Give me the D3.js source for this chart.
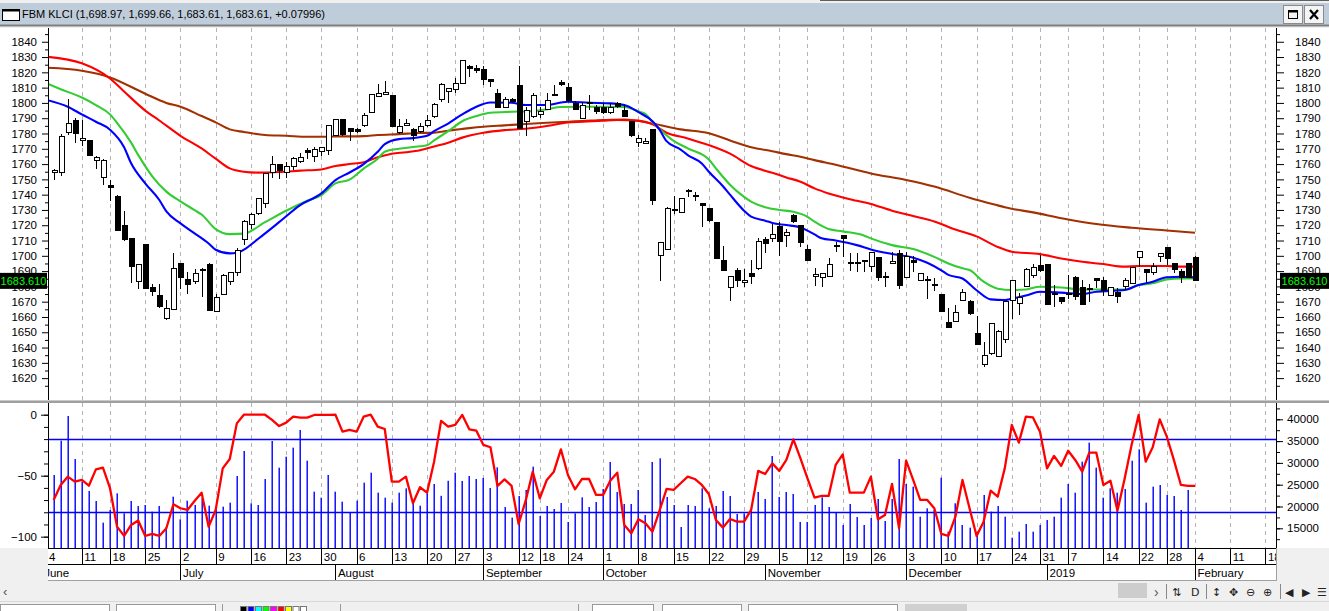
<!DOCTYPE html>
<html>
<head>
<meta charset="utf-8">
<script src="https://cdn.jsdelivr.net/npm/d3@7"></script>
<style>
  body { margin: 0; background: #f0f0f0; overflow: hidden; }
  svg { display: block; font-family: "Liberation Sans", Arial, sans-serif; }
</style>
</head>
<body>
<script>
// Window size
const w = 1329;
const h = 611;

// Plot edges (both panes share the x range)
const left = 48;
const right = 1276;
const mainTop = 28, mainBottom = 400;
const lowTop = 403, lowBottom = 548;

// ---- data ----
const symbol = "FBM KLCI";
const lastChange = "+0.07996";

// trading day index of the first candle (index 0 = 4 June 2018)
const firstDay = 1;

const open = [1754.8,1754.6,1780.5,1788.8,1775.5,1775.5,1762.4,1751.3,1746.1,1739.1,1720.1,1711.0,1683.1,1707.5,1679.3,1674.3,1658.8,1665.0,1695.0,1684.8,
  1683.3,1691.1,1694.6,1663.6,1675.0,1683.3,1688.9,1710.7,1720.8,1727.7,1733.9,1754.6,1759.4,1754.3,1758.3,1761.5,1769.2,1764.8,1768.5,1769.2,
  1778.8,1789.2,1783.3,1782.9,1785.3,1793.8,1804.3,1805.6,1805.1,1780.7,1785.3,1782.9,1781.2,1785.1,1791.0,1802.3,1807.6,1808.8,1812.8,1823.7,
  1822.6,1821.9,1815.0,1806.2,1797.1,1802.5,1811.7,1787.7,1791.0,1792.7,1795.8,1805.6,1813.2,1810.2,1799.7,1789.9,1800.0,1797.1,1797.1,1793.6,
  1799.7,1795.3,1787.7,1774.2,1773.5,1782.7,1700.1,1704.2,1729.6,1728.2,1742.5,1739.2,1734.3,1731.0,1722.1,1697.0,1679.3,1690.7,1682.4,1688.5,
  1691.5,1710.7,1711.4,1719.5,1713.3,1726.2,1720.1,1704.2,1686.3,1685.9,1686.3,1706.2,1713.4,1695.8,1695.6,1696.6,1692.9,1699.0,1686.5,1695.1,
  1701.6,1685.9,1697.2,1684.1,1684.3,1681.5,1675.0,1656.5,1656.9,1670.6,1670.0,1649.3,1628.6,1635.8,1634.4,1645.3,1670.6,1668.9,1679.8,1687.4,
  1693.7,1694.0,1675.6,1673.0,1675.2,1685.9,1679.3,1678.9,1685.2,1683.7,1674.3,1675.9,1679.8,1682.0,1699.0,1691.1,1688.9,1699.8,1705.5,1695.0,
  1690.0,1695.0,1698.97];
const high = [1756.7,1779.4,1802.3,1789.9,1788.8,1775.7,1765.2,1763.3,1749.5,1739.5,1729.3,1711.2,1694.8,1707.6,1681.5,1681.5,1671.0,1701.6,1695.2,1689.6,
  1691.3,1691.8,1695.0,1675.0,1688.0,1689.6,1705.0,1723.4,1727.7,1737.7,1754.3,1765.2,1759.6,1761.5,1764.8,1767.0,1770.3,1770.9,1771.0,1785.4,
  1789.3,1789.3,1783.4,1783.3,1793.6,1805.7,1812.3,1814.1,1805.2,1789.2,1789.2,1783.3,1787.0,1792.0,1799.7,1812.8,1809.6,1816.3,1828.1,1824.8,
  1824.8,1824.1,1815.1,1808.8,1804.0,1803.4,1824.1,1797.5,1806.7,1797.5,1806.7,1811.7,1815.0,1813.2,1801.4,1800.8,1805.1,1798.6,1799.7,1799.7,
  1800.8,1798.6,1788.0,1779.0,1776.8,1782.8,1708.6,1732.1,1739.0,1737.6,1743.4,1741.9,1734.4,1731.1,1722.2,1706.4,1686.8,1691.8,1691.3,1697.2,
  1711.4,1712.5,1720.8,1722.3,1717.3,1727.3,1720.2,1707.0,1691.8,1688.6,1698.3,1709.2,1713.5,1702.0,1702.0,1697.0,1702.3,1699.1,1689.6,1702.7,
  1703.8,1702.7,1699.8,1688.6,1686.8,1685.2,1675.1,1665.6,1667.8,1678.0,1671.0,1660.6,1643.4,1655.9,1651.4,1670.1,1684.0,1675.9,1691.8,1694.6,
  1700.5,1694.1,1680.9,1673.1,1687.4,1686.8,1684.1,1681.3,1685.3,1685.9,1679.8,1678.7,1685.2,1692.9,1702.6,1691.2,1695.5,1701.7,1705.9,1695.1,
  1691.1,1695.5,1699.66];
const low = [1749.5,1752.4,1779.0,1774.0,1772.0,1765.4,1756.5,1746.3,1736.0,1716.0,1710.0,1682.4,1678.3,1678.0,1673.9,1666.0,1658.0,1664.5,1678.0,1675.0,
  1681.3,1673.3,1664.0,1663.0,1674.6,1680.6,1687.0,1707.0,1717.3,1726.6,1731.0,1750.6,1750.4,1750.6,1756.1,1760.4,1763.3,1761.5,1765.2,1765.7,
  1778.3,1778.3,1775.3,1780.1,1784.0,1793.6,1804.2,1805.5,1784.0,1779.4,1784.9,1775.3,1780.1,1784.0,1789.9,1800.8,1800.1,1806.2,1812.6,1817.1,
  1819.3,1811.7,1810.6,1797.0,1796.4,1799.7,1783.0,1778.3,1789.9,1789.9,1795.3,1805.1,1811.0,1800.8,1795.3,1789.2,1795.3,1792.7,1793.0,1793.0,
  1796.4,1791.0,1777.9,1770.9,1773.1,1733.2,1683.7,1703.8,1727.3,1728.0,1738.2,1736.0,1719.0,1722.3,1698.0,1690.2,1670.6,1679.3,1679.8,1681.5,
  1690.7,1702.0,1709.2,1699.8,1705.9,1721.6,1705.9,1696.6,1680.2,1679.3,1685.9,1702.7,1699.4,1690.2,1689.6,1689.6,1689.6,1683.7,1679.3,1695.0,
  1678.0,1685.8,1689.6,1683.7,1671.5,1677.2,1663.3,1653.0,1656.8,1670.5,1661.3,1642.0,1627.0,1635.1,1634.0,1643.2,1658.4,1661.2,1679.3,1685.2,
  1689.6,1667.8,1666.7,1668.4,1671.5,1671.0,1667.8,1670.0,1678.7,1673.7,1673.7,1668.9,1677.6,1681.9,1692.4,1682.4,1687.4,1696.1,1694.0,1688.9,
  1682.4,1685.8,1683.61];
const close = [1756.1,1778.3,1786.6,1780.1,1776.8,1765.5,1764.1,1762.6,1744.7,1716.4,1710.5,1692.9,1694.6,1678.5,1676.5,1666.7,1665.6,1691.8,1685.9,1681.5,
  1688.5,1690.2,1664.1,1672.8,1687.2,1688.9,1703.3,1722.3,1727.1,1737.6,1753.9,1759.8,1755.7,1758.3,1763.7,1764.4,1767.6,1769.6,1770.9,1785.3,
  1789.2,1779.4,1781.2,1781.2,1791.8,1805.6,1806.2,1806.9,1784.4,1784.4,1786.6,1778.8,1784.4,1788.8,1799.0,1812.3,1809.5,1812.8,1828.0,1822.8,
  1821.1,1815.4,1813.9,1797.1,1802.3,1800.8,1783.3,1795.3,1805.1,1794.2,1801.9,1805.8,1811.9,1801.4,1795.8,1798.0,1799.5,1794.2,1793.6,1797.1,
  1797.5,1791.4,1778.5,1776.8,1775.0,1736.0,1708.5,1731.0,1730.0,1737.5,1741.9,1738.9,1733.0,1723.4,1698.1,1690.7,1686.3,1683.7,1684.1,1686.3,
  1709.2,1708.1,1714.0,1709.2,1715.3,1722.3,1708.5,1696.8,1688.1,1688.5,1694.4,1706.6,1711.2,1695.4,1695.2,1696.9,1702.2,1685.9,1686.1,1696.6,
  1680.7,1699.4,1695.5,1688.5,1684.0,1681.1,1663.4,1653.2,1662.8,1675.9,1662.3,1642.1,1634.7,1655.8,1650.4,1670.0,1683.9,1672.8,1691.1,1692.4,
  1690.7,1668.4,1675.2,1670.0,1674.8,1673.7,1668.2,1678.5,1683.7,1677.2,1679.3,1673.2,1683.7,1692.4,1702.5,1688.9,1693.3,1701.6,1698.3,1691.1,
  1685.9,1685.9,1683.61];

// volume (right scale of the lower pane), last day has no bar
const volume = [27225,35100,40757,30895,25700,23556,21262,16293,19198,23020,18434,21262,20115,20345,18816,20115,15223,22256,17057,21339,
  20345,21874,20192,19963,19963,20880,26996,32730,20727,20345,26308,35023,28907,31430,33494,37546,30513,23403,22027,27225,
  23403,21109,18586,21339,25467,27761,23174,22027,20880,23174,24167,20727,20192,23020,25161,22450,25900,27760,25850,27000,
  26310,26540,24240,28980,19890,17440,22410,23790,29140,17820,20120,19430,20800,16450,18430,22100,19890,21030,24020,30210,
  23330,20580,20580,23790,18050,30210,31050,22180,20350,15300,20350,20120,24170,19580,20120,23560,22410,18280,18430,19200,
  23330,21720,31580,22180,23330,22870,16450,16450,20350,22100,19890,18510,15760,20580,17590,15760,17360,21720,16680,21720,
  30900,25160,24550,17670,19580,19200,26610,14230,20730,15760,15150,14230,22640,18820,20120,17670,12850,14230,15990,14230,
  15760,16900,17670,22030,25160,23170,30280,34640,28910,22030,24170,23170,24010,30510,33110,20880,24550,24930,22640,22410,
  19200,23790,null];

// Williams %R (left scale of the lower pane)
const willR = [-70,-57.6,-50.8,-54.9,-53.5,-58.2,-44.8,-43.4,-60.3,-91.8,-99.4,-90.4,-86.8,-99.4,-97.8,-99.4,-93.1,-73.5,-76.7,-78.1,
  -70.7,-63.9,-91.8,-78.1,-44,-36.3,-7.1,0,0,0,0,-4.3,-9.3,-6.5,-1.6,-2.4,-2.4,-0.2,-0.2,-0.2,
  0,-13.9,-12.5,-13.9,-1.6,0,-9.8,-11.7,-54.9,-54.9,-50.8,-72.6,-59.5,-63.9,-38.5,-5,-9.8,-8.4,-0.2,-12,
  -13.1,-24.8,-26.7,-58.4,-53,-58.4,-89.6,-70.5,-46.7,-68.5,-53.5,-46.7,-28.4,-49.4,-61.2,-52.7,-52.7,-65.8,-65.8,-54.1,
  -47.5,-90.4,-97.2,-85.8,-89,-95.9,-78.7,-60.9,-61.7,-56.2,-50.8,-52.7,-57.6,-65,-86.3,-92.6,-85.5,-87.7,-87.7,-78.1,
  -46.1,-48.6,-39.9,-46.1,-37.1,-20.2,-35.8,-52.2,-68,-66.6,-66.6,-41.2,-32.5,-63.9,-63.9,-63.9,-50.8,-85.8,-82.2,-56.8,
  -93.1,-37.7,-53.5,-69.9,-69.9,-76.7,-97.8,-99.4,-83.6,-53.5,-76.7,-99.4,-87.7,-62.3,-67.2,-44,-8.4,-22.9,-1.6,-2.2,
  -13.9,-44,-33.8,-42,-29.5,-37.1,-46.7,-31.1,-31.1,-57.6,-54.1,-78.6,-53,-24.8,-0.2,-38.5,-26.7,-3.8,-18,-37.1,
  -57.6,-58.4,-58.4];
const wrLevels = [-20, -80];

// moving averages, [trading day index, value]
const maBlue = [[0,1802],[3,1797.5],[5,1792.5],[7,1787.7],[9,1782.5],[11,1771],[12,1760.5],[14,1747.4],[16,1736.5],[17,1729],[19,1721.2],
  [21,1714.7],[23,1708.1],[24,1704],[26,1701.6],[27,1702],[28,1704],[30,1711],[33,1722],[36,1733.2],[39,1740.8],[41,1749.5],[43,1754.5],
  [45,1760],[47,1768],[48,1773.1],[50,1776.3],[52,1777],[54,1778.5],[55,1781.5],[57,1786.5],[59,1792.5],[61,1797.5],[63,1800.3],[66,1800.1],
  [68,1798.6],[71,1798.6],[73,1800.3],[74,1800.8],[77,1800.1],[80,1799.7],[82,1798.6],[84,1794],[86,1788],[87,1782.5],[88,1775],[90,1769.5],
  [91,1765.9],[93,1760.4],[94,1755],[96,1745.5],[97,1740],[99,1729.5],[100,1725.6],[102,1723],[103,1721.5],[105,1720.1],[107,1718.5],
  [108,1716.5],[109,1714],[110,1711.5],[112,1710],[115,1707],[117,1704.2],[120,1701.2],[123,1698.8],[125,1695.5],[127,1690.5],[128,1687.5],
  [130,1685.2],[132,1677.5],[134,1671.5],[136,1671.1],[137,1672],[139,1674],[141,1676.5],[144,1675.9],[147,1675],[149,1676.5],[152,1677.3],
  [153,1677.6],[155,1680.9],[157,1683.1],[159,1686],[161,1686.3],[163,1685.9]];
const maGreen = [[0,1812.8],[2,1809],[5,1803.5],[7,1798.6],[9,1792.5],[10,1787],[12,1774],[13,1766],[15,1752],[17,1742],[19,1735.6],
  [21,1729.9],[22,1727],[24,1717.5],[26,1714.2],[28,1714.5],[31,1722],[34,1729.5],[37,1736],[39,1739.7],[41,1747.4],[43,1749.8],[45,1757],
  [47,1763.5],[48,1768.1],[50,1770],[52,1771.2],[54,1772.3],[55,1775.5],[57,1781.5],[59,1788],[61,1791.4],[63,1793.6],[66,1794.2],[69,1794.7],
  [71,1795.8],[73,1797.3],[76,1797.5],[80,1797.5],[82,1797.3],[84,1794.5],[85,1792.7],[86,1787.5],[87,1783],[89,1775.2],[91,1770.3],[94,1763],
  [95,1757.2],[97,1746.5],[99,1738.5],[100,1735.4],[102,1731.8],[104,1730],[106,1728.8],[108,1725.5],[109,1722.3],[111,1717.5],[113,1716],
  [116,1713.3],[117,1711.4],[120,1707],[123,1704.4],[126,1699.3],[128,1695],[130,1691.8],[131,1690.7],[133,1683.1],[135,1678.5],[137,1677.6],
  [139,1678],[141,1679.8],[144,1679.3],[147,1678],[150,1678],[153,1678],[155,1680.9],[157,1682],[159,1684.6],[161,1685.2],[163,1685.2]];
const maRed = [[0,1830.2],[5,1825.9],[9,1816],[11,1807.5],[14,1795],[16,1788.5],[19,1778.5],[22,1770.2],[24,1763.5],[26,1757.2],[28,1755],
  [30,1754.4],[33,1754.8],[36,1755.7],[39,1756.5],[41,1758.7],[43,1760],[45,1761.2],[47,1764.5],[49,1766.8],[51,1767.7],[53,1769],[55,1771.5],
  [57,1774],[59,1777.3],[62,1780.5],[65,1782.2],[68,1783.1],[71,1784.9],[74,1787.2],[76,1787.7],[79,1788.4],[81,1788.8],[84,1788.4],[86,1786],
  [88,1780.5],[91,1776.8],[94,1772.4],[97,1766.8],[100,1758.7],[103,1754.3],[105,1751.3],[107,1748.4],[109,1744.1],[111,1740.8],[115,1736],
  [117,1733.9],[120,1729.5],[123,1726],[126,1722.5],[129,1717.2],[132,1712.7],[135,1705.8],[137,1702.7],[141,1701.1],[144,1698.3],[147,1696.1],
  [150,1694.6],[153,1692.9],[155,1693.3],[159,1693.3],[161,1692.9],[163,1692.9]];
const maBrown = [[0,1823],[5,1821],[9,1816.7],[14,1806],[17,1800],[19,1797.5],[22,1791.4],[24,1787.3],[26,1782.7],[28,1781],[31,1779],
  [34,1778.5],[37,1777.9],[39,1777.9],[42,1778.1],[45,1778.3],[47,1779],[50,1779.6],[53,1780.3],[55,1780.5],[57,1781.8],[60,1783.5],[62,1784.4],
  [65,1785.3],[68,1786.2],[71,1787],[74,1787.7],[76,1788.1],[79,1788.8],[82,1789.2],[86,1786.5],[90,1782.7],[94,1780.1],[97,1775.5],[100,1771],
  [103,1768.4],[105,1766.5],[107,1764.8],[109,1762.6],[112,1759.6],[117,1753.9],[122,1749.6],[126,1745.3],[131,1738],[135,1733],[136,1731.8],
  [140,1728.4],[145,1723.8],[149,1720.8],[154,1718.4],[159,1716.6],[163,1715.1]];

// x axis: first trading day of each week, and of each month
const weekTicks = [["4",0],["11",5],["18",9],["25",14],["2",19],["9",24],["16",29],["23",34],["30",39],["6",44],["13",49],["20",54],
  ["27",58],["3",62],["12",67],["18",70],["24",74],["1",79],["8",84],["15",89],["22",94],["29",99],["5",104],["12",108],["19",113],
  ["26",117],["3",122],["10",127],["17",132],["24",137],["31",141],["7",145],["14",150],["22",155],["28",159],["4",163],["11",168],["18",173]];
const monthTicks = [["June",-0.7],["July",19],["August",41],["September",62],["October",79],["November",102],["December",122],
  ["2019",142],["February",163]];

// price / indicator axis labels
const priceTicks = d3.range(1620, 1841, 10);
const wrTicks = [0, -50, -100];
const volTicks = d3.range(15000, 40001, 5000);

// ---- scales ----
const xScale = d3.scaleLinear().domain([0.2, 174.5]).range([left, right]);
const yPrice = d3.scaleLinear().domain([1605.7, 1849]).range([mainBottom, mainTop]);
const yWr = d3.scaleLinear().domain([-109.3, 9.6]).range([lowBottom, lowTop]);
const yVol = d3.scaleLinear().domain([10482, 43739]).range([lowBottom, lowTop]);

const svg = d3.select("body").append("svg").attr("width", w).attr("height", h);
const fontSize = "11.5px";

const candles = open.map((o, k) => ({ i: firstDay + k, o: o, h: high[k], l: low[k], c: close[k] }));
const last = candles[candles.length - 1];

drawFrame();
drawGrid();
drawVolume();
drawWilliams();
drawAverages();
drawCandles();
drawAxes();
drawXAxis();
drawPriceTags();
drawChrome();

// Background panels
function drawFrame() {
  svg.append("rect").attr("width", w).attr("height", h).attr("fill", "#f0f0f0");
  svg.append("rect").attr("x", 0).attr("y", mainTop).attr("width", w).attr("height", lowBottom - mainTop).attr("fill", "#fff");
  svg.append("rect").attr("x", left).attr("y", lowBottom).attr("width", right - left).attr("height", 32).attr("fill", "#fff");

  const defs = svg.append("defs");
  defs.append("clipPath").attr("id", "clipMain").append("rect")
    .attr("x", left).attr("y", mainTop).attr("width", right - left).attr("height", mainBottom - mainTop);
  defs.append("clipPath").attr("id", "clipLow").append("rect")
    .attr("x", left).attr("y", lowTop).attr("width", right - left).attr("height", lowBottom - lowTop);
  defs.append("clipPath").attr("id", "clipX").append("rect")
    .attr("x", left).attr("y", lowBottom).attr("width", right - left).attr("height", 33);

  // pane separator
  svg.append("line").attr("x1", 0).attr("x2", w).attr("y1", 400.5).attr("y2", 400.5).attr("stroke", "#c8c8c8");
  svg.append("line").attr("x1", 0).attr("x2", w).attr("y1", 402).attr("y2", 402).attr("stroke", "#808080").attr("stroke-width", 1.6);
}

// Weekly dashed gridlines in both panes
function drawGrid() {
  const g = svg.append("g").attr("stroke", "#b4b4b4").attr("stroke-dasharray", "4,4");
  [[mainTop, mainBottom], [lowTop, lowBottom]].forEach(([y1, y2]) => {
    g.selectAll(null).data(weekTicks.filter(d => d[1] > 0)).enter().append("line")
      .attr("x1", d => Math.round(xScale(d[1])) + 0.5).attr("x2", d => Math.round(xScale(d[1])) + 0.5)
      .attr("y1", y1).attr("y2", y2);
  });
}

function drawVolume() {
  svg.append("g").attr("clip-path", "url(#clipLow)")
    .selectAll("rect").data(candles.filter((d, k) => volume[k] != null)).enter().append("rect")
    .attr("x", d => Math.round(xScale(d.i)) - 0.5)
    .attr("width", 1.4)
    .attr("y", d => yVol(volume[d.i - firstDay]))
    .attr("height", d => lowBottom - yVol(volume[d.i - firstDay]))
    .attr("fill", "#0000ff");
}

function drawWilliams() {
  const g = svg.append("g").attr("clip-path", "url(#clipLow)");
  g.selectAll("line").data(wrLevels).enter().append("line")
    .attr("x1", left).attr("x2", right)
    .attr("y1", d => Math.round(yWr(d)) + 0.5).attr("y2", d => Math.round(yWr(d)) + 0.5)
    .attr("stroke", "#0000ff").attr("stroke-width", 1.3);
  const line = d3.line().x(d => xScale(d.i)).y(d => yWr(d.v));
  g.append("path")
    .datum(willR.map((v, k) => ({ i: firstDay + k, v: v })))
    .attr("d", line).attr("fill", "none").attr("stroke", "#ff0000").attr("stroke-width", 2.3)
    .attr("stroke-linejoin", "round");
}

function drawAverages() {
  const g = svg.append("g").attr("clip-path", "url(#clipMain)");
  const line = d3.line().x(d => xScale(d[0])).y(d => yPrice(d[1])).curve(d3.curveMonotoneX);
  [[maBrown, "#a33000"], [maRed, "#ff0000"], [maGreen, "#33cc33"], [maBlue, "#0000ff"]].forEach(([data, color]) => {
    g.append("path").datum(data).attr("d", line)
      .attr("fill", "none").attr("stroke", color).attr("stroke-width", 2.1);
  });
}

function drawCandles() {
  const g = svg.append("g").attr("clip-path", "url(#clipMain)").attr("shape-rendering", "crispEdges");
  const c = g.selectAll("g").data(candles).enter().append("g");
  c.append("line")
    .attr("x1", d => Math.round(xScale(d.i)) + 0.5).attr("x2", d => Math.round(xScale(d.i)) + 0.5)
    .attr("y1", d => yPrice(d.h)).attr("y2", d => yPrice(d.l))
    .attr("stroke", "#000");
  c.append("rect")
    .attr("x", d => Math.round(xScale(d.i)) - 2)
    .attr("width", 5)
    .attr("y", d => yPrice(Math.max(d.o, d.c)))
    .attr("height", d => Math.max(1, yPrice(Math.min(d.o, d.c)) - yPrice(Math.max(d.o, d.c))))
    .attr("fill", d => d.c >= d.o ? "#fff" : "#000")
    .attr("stroke", "#000");
}

// Styles d3 axis output to look like the reference
function styleAxis(g) {
  g.select(".domain").remove();
  g.attr("font-family", null).attr("font-size", fontSize);
  g.selectAll("text").attr("fill", "#000");
  g.selectAll("line").attr("stroke", "#000");
}

function drawAxes() {
  const noLabel = () => "";
  // price pane, left
  svg.append("g").attr("transform", "translate(" + left + ",0)")
    .call(d3.axisLeft(yPrice).tickValues(d3.range(1615, 1846, 10)).tickSize(3).tickFormat(noLabel)).call(styleAxis);
  svg.append("g").attr("transform", "translate(" + left + ",0)")
    .call(d3.axisLeft(yPrice).tickValues(priceTicks).tickSize(6).tickPadding(5).tickFormat(d3.format("d"))).call(styleAxis);
  // price pane, right
  svg.append("g").attr("transform", "translate(" + right + ",0)")
    .call(d3.axisRight(yPrice).tickValues(d3.range(1615, 1846, 10)).tickSize(4).tickFormat(noLabel)).call(styleAxis);
  svg.append("g").attr("transform", "translate(" + right + ",0)")
    .call(d3.axisRight(yPrice).tickValues(priceTicks).tickSize(8).tickPadding(11).tickFormat(d3.format("d"))).call(styleAxis);
  // lower pane, left (Williams %R)
  svg.append("g").attr("transform", "translate(" + left + ",0)")
    .call(d3.axisLeft(yWr).tickValues(d3.range(-100, 1, 10)).tickSize(4).tickFormat(noLabel)).call(styleAxis);
  svg.append("g").attr("transform", "translate(" + left + ",0)")
    .call(d3.axisLeft(yWr).tickValues(wrTicks).tickSize(7).tickPadding(4).tickFormat(d3.format("d"))).call(styleAxis);
  // lower pane, right (volume)
  svg.append("g").attr("transform", "translate(" + right + ",0)")
    .call(d3.axisRight(yVol).tickValues(d3.range(12500, 43000, 2500)).tickSize(4).tickFormat(noLabel)).call(styleAxis);
  svg.append("g").attr("transform", "translate(" + right + ",0)")
    .call(d3.axisRight(yVol).tickValues(volTicks).tickSize(7).tickPadding(4).tickFormat(d3.format("d"))).call(styleAxis);

  // axis lines
  [left, right].forEach(x => {
    svg.append("line").attr("x1", x + 0.5).attr("x2", x + 0.5).attr("y1", mainTop).attr("y2", mainBottom).attr("stroke", "#000");
    svg.append("line").attr("x1", x + 0.5).attr("x2", x + 0.5).attr("y1", lowTop).attr("y2", lowBottom).attr("stroke", "#000");
  });
}

// Two-row date axis under the lower pane
function drawXAxis() {
  const g = svg.append("g").attr("clip-path", "url(#clipX)").attr("font-size", fontSize).attr("shape-rendering", "crispEdges");
  g.append("line").attr("x1", left).attr("x2", right).attr("y1", lowBottom).attr("y2", lowBottom).attr("stroke", "#000").attr("stroke-width", 2);
  g.append("line").attr("x1", left).attr("x2", right).attr("y1", 564.5).attr("y2", 564.5).attr("stroke", "#000");
  g.append("line").attr("x1", left).attr("x2", right).attr("y1", 580.5).attr("y2", 580.5).attr("stroke", "#a0a0a0");

  const wk = g.selectAll(".wk").data(weekTicks).enter().append("g").attr("class", "wk");
  wk.append("line")
    .attr("x1", d => Math.round(xScale(d[1])) + 0.5).attr("x2", d => Math.round(xScale(d[1])) + 0.5)
    .attr("y1", lowBottom).attr("y2", 564.5).attr("stroke", "#000");
  wk.append("text").attr("x", d => xScale(d[1]) + 2.5).attr("y", 561).text(d => d[0]);

  const mo = g.selectAll(".mo").data(monthTicks).enter().append("g").attr("class", "mo");
  mo.append("line")
    .attr("x1", d => Math.round(xScale(d[1])) + 0.5).attr("x2", d => Math.round(xScale(d[1])) + 0.5)
    .attr("y1", 564.5).attr("y2", 580).attr("stroke", "#000");
  mo.append("text").attr("x", d => xScale(d[1]) + 2.5).attr("y", 577).text(d => d[0]);

  svg.append("line").attr("x1", right + 0.5).attr("x2", right + 0.5).attr("y1", lowBottom).attr("y2", 581).attr("stroke", "#a0a0a0");
}

// Last close marker on both price scales
function drawPriceTags() {
  const y = yPrice(last.c);
  const label = d3.format(".3f")(last.c);
  [[0, 47], [right + 4, w - right - 4]].forEach(([x, wd]) => {
    svg.append("rect").attr("x", x).attr("y", y - 8).attr("width", wd).attr("height", 16).attr("fill", "#000");
    svg.append("text").attr("x", x + wd / 2).attr("y", y + 4).attr("text-anchor", "middle")
      .attr("font-size", "11px").attr("fill", "#00ff00").text(label);
  });
}

// Title bar, scroll bar and toolbar around the chart
function drawChrome() {
  svg.append("rect").attr("x", 0).attr("y", 3).attr("width", w).attr("height", 22).attr("fill", "#bfcddb");
  svg.append("line").attr("x1", 820).attr("x2", w).attr("y1", 0.5).attr("y2", 0.5).attr("stroke", "#606060");
  svg.append("line").attr("x1", 0).attr("x2", w).attr("y1", 25.5).attr("y2", 25.5).attr("stroke", "#808080").attr("stroke-width", 2);

  // window icon
  svg.append("rect").attr("x", 2.5).attr("y", 9.5).attr("width", 17).attr("height", 11).attr("fill", "#fff").attr("stroke", "#000");
  svg.append("line").attr("x1", 2.5).attr("x2", 19.5).attr("y1", 10.5).attr("y2", 10.5).attr("stroke", "#000").attr("stroke-width", 2);

  const fmt = d3.format(",.2f");
  svg.append("text").attr("x", 22).attr("y", 17.5).attr("font-size", "11px").attr("fill", "#000")
    .text(symbol + " (" + [last.o, last.h, last.l, last.c].map(fmt).join(", ") + ", " + lastChange + ")");

  // window buttons
  [[1283, "max"], [1304, "close"]].forEach(([x, kind]) => {
    svg.append("rect").attr("x", x + 0.5).attr("y", 5.5).attr("width", 19).attr("height", 18)
      .attr("fill", "#f4f4f4").attr("stroke", "#8a8a8a");
    if (kind === "max") {
      svg.append("rect").attr("x", x + 5.5).attr("y", 10.5).attr("width", 9).attr("height", 8).attr("fill", "none").attr("stroke", "#000");
      svg.append("line").attr("x1", x + 5.5).attr("x2", x + 14.5).attr("y1", 11.5).attr("y2", 11.5).attr("stroke", "#000").attr("stroke-width", 2);
    } else {
      svg.append("path").attr("d", `M${x + 6},${10} L${x + 14},${19} M${x + 14},${10} L${x + 6},${19}`)
        .attr("stroke", "#000").attr("stroke-width", 2.2);
    }
  });

  // scroll bar row
  svg.append("text").attr("x", 3).attr("y", 596).attr("font-size", "13px").attr("fill", "#555").text("\u2039");
  svg.append("rect").attr("x", 1118).attr("y", 583).attr("width", 29).attr("height", 15).attr("fill", "#cdcdcd");
  svg.append("text").attr("x", 1154).attr("y", 597).attr("font-size", "14px").attr("fill", "#555").text("\u203a");
  const icons = [["\u21c5", 1172], ["D", 1191], ["\u2195", 1212], ["\u2725", 1229], ["\u2296", 1246], ["\u2295", 1263],
    ["\u25c0", 1285], ["\u25b6", 1302], ["\u2630", 1317]];
  svg.selectAll(".icon").data(icons).enter().append("text").attr("class", "icon")
    .attr("x", d => d[1]).attr("y", 596).attr("font-family", "DejaVu Sans").attr("font-size", "11px").attr("fill", "#222")
    .text(d => d[0]);
  [1166, 1206, 1280].forEach(x => {
    svg.append("line").attr("x1", x + 0.5).attr("x2", x + 0.5).attr("y1", 584).attr("y2", 599).attr("stroke", "#888");
  });

  // tool bar row (partly visible)
  svg.append("line").attr("x1", 0).attr("x2", w).attr("y1", 601.5).attr("y2", 601.5).attr("stroke", "#d8d8d8");
  [[0, 109], [116, 99], [592, 61], [662, 79], [748, 149]].forEach(([x, wd]) => {
    svg.append("rect").attr("x", x + 0.5).attr("y", 604.5).attr("width", wd).attr("height", 10).attr("fill", "#fff").attr("stroke", "#999");
  });
  svg.append("rect").attr("x", 905).attr("y", 604).attr("width", 62).attr("height", 10).attr("fill", "#d0d0d0");
  [222, 340, 578].forEach(x => {
    svg.append("line").attr("x1", x + 0.5).attr("x2", x + 0.5).attr("y1", 604).attr("y2", 611).attr("stroke", "#999");
  });
  ["#000", "#0000ff", "#00ffff", "#00ff00", "#ff00ff", "#ff0000", "#ffff00", "#fff", "#fff"].forEach((col, k) => {
    svg.append("rect").attr("x", 240.5 + k * 7.5).attr("y", 606.5).attr("width", 6).attr("height", 6).attr("fill", col).attr("stroke", "#777");
  });
}
</script>
</body>
</html>
